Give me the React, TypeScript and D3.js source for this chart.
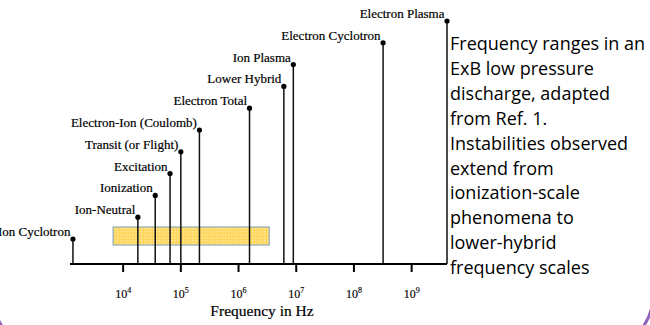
import React from "react";
import * as d3 from "d3";

// oscillation / collision modes in an ExB discharge
const modes = [
  "Ion Cyclotron",
  "Ion-Neutral",
  "Ionization",
  "Excitation",
  "Transit (or Flight)",
  "Electron-Ion (Coulomb)",
  "Electron Total",
  "Lower Hybrid",
  "Ion Plasma",
  "Electron Cyclotron",
  "Electron Plasma"
];
// characteristic frequency in Hz
const frequencies = [1.35e3, 1.8e4, 3.6e4, 6.5e4, 1.0e5, 2.1e5, 1.55e6, 6.1e6, 8.9e6, 3.2e8, 4.1e9];
// stacking level of each label (just for readability)
const levels = [0, 1, 2, 3, 4, 5, 6, 7, 8, 9, 10];
// decades shown on the axis
const tickExponents = [4, 5, 6, 7, 8, 9];
// observed instability range
const instabilityBand = [6.7e3, 3.4e6];

const caption = [
  "Frequency ranges in an",
  "ExB low pressure",
  "discharge, adapted",
  "from Ref. 1.",
  "Instabilities observed",
  "extend from",
  "ionization-scale",
  "phenomena to",
  "lower-hybrid",
  "frequency scales"
];

const W = 650;
const H = 325;
const baseY = 264;
const serif = "'Liberation Serif', 'Times New Roman', serif";

export default function App() {
  const x = d3.scaleLog().domain([1.2e3, 4.1e9]).range([70, 447]);
  const y = d3.scaleLinear().domain([0, 10]).range([239, 21]);

  return (
    <svg
      width={W}
      height={H}
      style={{ position: "absolute", left: 0, top: 0, background: "#fff" }}
    >
      <defs>
        <pattern id="band" width="3" height="3" patternUnits="userSpaceOnUse">
          <rect width="3" height="3" fill="#ffd65e" />
          <rect width="1.5" height="1.5" fill="#ffe79a" />
        </pattern>
      </defs>

      {/* slide frame corners, mostly off the page */}
      <rect
        x={-8}
        y={-200}
        width={661.5}
        height={554}
        rx={61.5}
        fill="none"
        stroke="#9165bd"
        strokeWidth={3}
      />

      {/* instability band */}
      <rect
        x={x(instabilityBand[0])}
        y={227}
        width={x(instabilityBand[1]) - x(instabilityBand[0])}
        height={18}
        fill="url(#band)"
        stroke="#7f9dbb"
        strokeWidth={1}
      />

      {/* stems */}
      {modes.map((m, i) => (
        <g key={m}>
          <line
            x1={x(frequencies[i])}
            x2={x(frequencies[i])}
            y1={y(levels[i])}
            y2={baseY}
            stroke="#111"
            strokeWidth={1.5}
          />
          <circle cx={x(frequencies[i])} cy={y(levels[i])} r={2.6} fill="#000" />
          <text
            x={x(frequencies[i]) - 2.5}
            y={y(levels[i]) - 3}
            textAnchor="end"
            fontFamily={serif}
            fontSize={13}
            fill="#000"
            stroke="#000"
            strokeWidth={0.2}
          >
            {m}
          </text>
        </g>
      ))}

      {/* axis */}
      <line x1={70} x2={447} y1={baseY} y2={baseY} stroke="#000" strokeWidth={2.2} />
      {tickExponents.map((e) => (
        <g key={e} transform={`translate(${x(Math.pow(10, e))},0)`}>
          <line y1={baseY} y2={baseY + 8} stroke="#000" strokeWidth={2} />
          <text
            y={298}
            textAnchor="middle"
            fontFamily={serif}
            fontSize={12}
            fill="#000"
            stroke="#000"
            strokeWidth={0.15}
          >
            10
            <tspan dy={-5} fontSize={8}>
              {e}
            </tspan>
          </text>
        </g>
      ))}
      <text
        x={262}
        y={316}
        textAnchor="middle"
        fontFamily={serif}
        fontSize={15.5}
        fill="#000"
        stroke="#000"
        strokeWidth={0.2}
      >
        Frequency in Hz
      </text>

      {/* caption */}
      <text fontFamily="'Open Sans', sans-serif" fontSize={18} fill="#000">
        {caption.map((c, i) => (
          <tspan key={i} x={450} y={50 + i * 24.9}>
            {c}
          </tspan>
        ))}
      </text>
    </svg>
  );
}
